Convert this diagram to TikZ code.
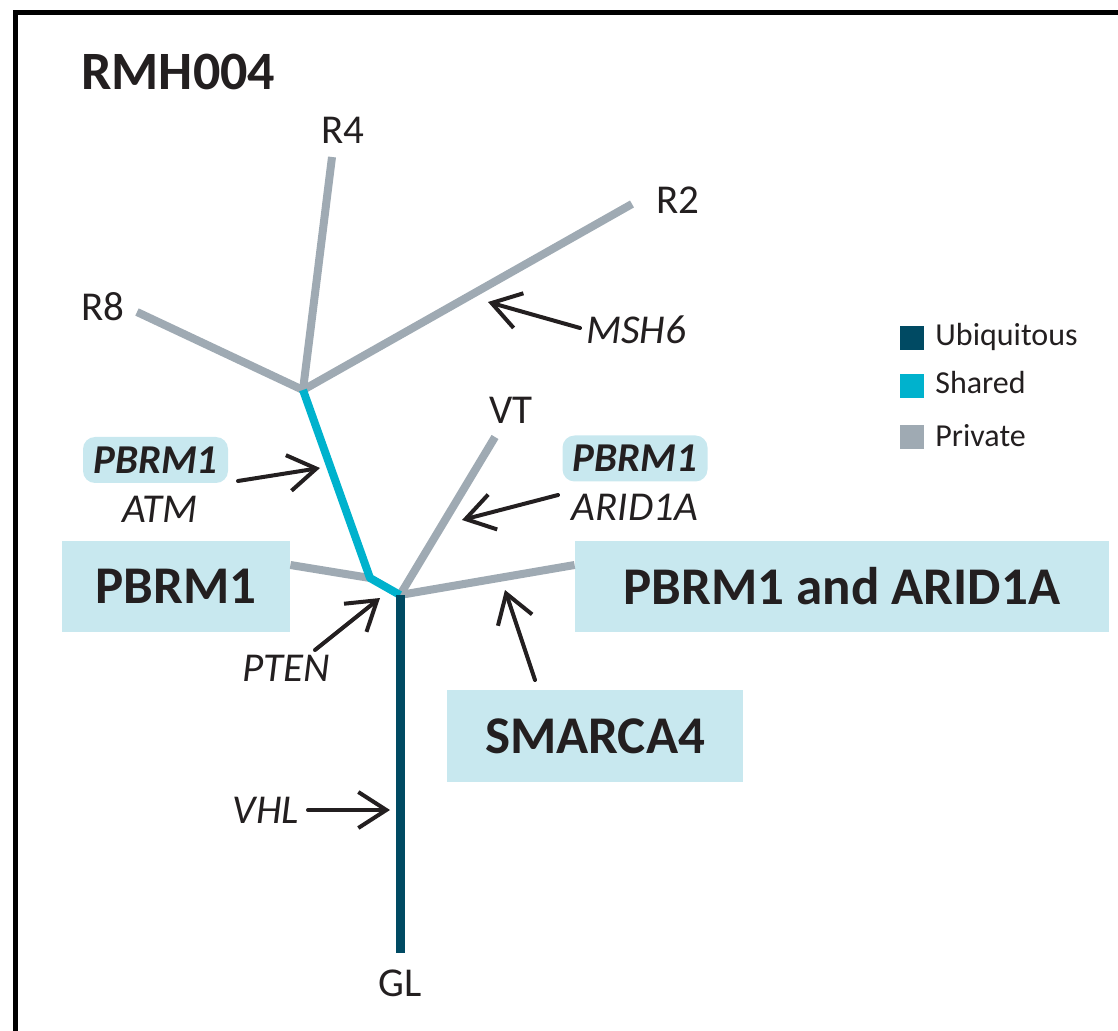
\documentclass[tikz,border=0pt]{standalone}
\usepackage{fontspec}
\setmainfont{Carlito}
\usetikzlibrary{arrows.meta}
\definecolor{ubiq}{HTML}{004A63}
\definecolor{shared}{HTML}{00B2CD}
\definecolor{priv}{HTML}{9FAAB3}
\definecolor{boxfill}{HTML}{C8E8EF}
\definecolor{ink}{HTML}{231F20}
\begin{document}
\begin{tikzpicture}[x=0.5pt,y=-0.5pt,
  branch/.style={line width=4pt},
  mut/.style={draw=ink, line width=2pt, line cap=round,
    -{Straight Barb[length=14pt,width=18pt,line width=2pt]}},
  lbl/.style={text=ink, inner sep=0pt, font=\fontsize{20.5}{23}\selectfont},
  ital/.style={lbl, font=\fontsize{20.5}{23}\selectfont\itshape},
  badge/.style={fill=boxfill, rounded corners=6pt, minimum width=72.5pt, minimum height=23pt,
    inner sep=0pt, text=ink, font=\fontsize{20.5}{23}\selectfont\bfseries\itshape},
  bigbox/.style={fill=boxfill, minimum height=45.5pt, inner sep=0pt, text=ink,
    font=\fontsize{26.5}{29}\selectfont\bfseries},
  legsq/.style={minimum size=12pt, inner sep=0pt},
  legtxt/.style={anchor=base west, inner sep=0pt, text=ink, font=\fontsize{16}{18}\selectfont}]
\useasboundingbox (0,0) rectangle (1118,1031);
\clip (0,0) rectangle (1118,1031);
% frame
\draw[line width=2.75pt] (15.5,12.5) rectangle (1140,1060);
% title
\node[lbl, anchor=west, font=\fontsize{27}{30}\selectfont\bfseries] (title) at (81,72) {RMH004};
% tree coordinates
\coordinate (jR) at (303,390);
\coordinate (r4end) at (332,157);
\coordinate (r8end) at (137,312);
\coordinate (r2end) at (632,204);
\coordinate (kink) at (370,578);
\coordinate (jT) at (400,595);
\coordinate (glend) at (400,953);
\coordinate (vtend) at (495,437);
% boxes
\node[bigbox, minimum width=114pt] (bP) at (176,586.5) {PBRM1};
\node[bigbox, minimum width=267pt] (bPA) at (842,586.5) {PBRM1 and ARID1A};
\node[bigbox, minimum width=148pt, minimum height=46pt] (bS) at (595,736) {SMARCA4};
% private branches
\draw[priv, branch] (r4end) -- (jR);
\draw[priv, branch] (r8end) -- (jR);
\draw[priv, branch] (r2end) -- (jR);
\draw[priv, branch] (bP.east |- 0,565) -- (kink);
\draw[priv, branch] (vtend) -- (jT);
\draw[priv, branch] (jT) -- (bPA.west |- 0,565);
% shared
\draw[shared, branch, line join=round] (jR) -- (kink) -- (jT);
% ubiquitous
\draw[ubiq, line width=4.5pt] (jT) -- (glend);
% tip labels
\node[lbl] (R4) at (343,130) {R4};
\node[lbl] (R2) at (678,200) {R2};
\node[lbl] (R8) at (103,307) {R8};
\node[lbl] (VT) at (511,410) {VT};
\node[lbl] (GL) at (400,983) {GL};
% badges and mutation labels
\node[badge] (bdgL) at (155.5,460) {PBRM1};
\node[ital] (ATM) at (160,509) {ATM};
\node[badge] (bdgR) at (635,458.5) {PBRM1};
\node[ital] (ARID) at (635,507) {ARID1A};
\node[ital] (MSH6) at (636,330) {MSH6};
\node[ital] (PTEN) at (286,668) {PTEN};
\node[ital] (VHL) at (266,810) {VHL};
% arrow coordinates
\coordinate (aMs) at (580,328); \coordinate (aMe) at (488,302);
\coordinate (aLs) at (238,481); \coordinate (aLe) at (320,468);
\coordinate (aRs) at (558,495); \coordinate (aRe) at (462,520);
\coordinate (aPs) at (315,650); \coordinate (aPe) at (380,598);
\coordinate (aSs) at (535,680); \coordinate (aSe) at (505,590);
\coordinate (aVs) at (308,810); \coordinate (aVe) at (390,810);
\draw[mut] (aMs) -- (aMe);
\draw[mut] (aLs) -- (aLe);
\draw[mut] (aRs) -- (aRe);
\draw[mut] (aPs) -- (aPe);
\draw[mut] (aSs) -- (aSe);
\draw[mut] (aVs) -- (aVe);
% legend
\node[legsq, fill=ubiq] (sqU) at (912,338) {};
\node[legsq, fill=shared] (sqS) at (912,386) {};
\node[legsq, fill=priv] (sqP) at (912,437) {};
\node[legtxt] (tU) at (935,346) {Ubiquitous};
\node[legtxt] (tS) at (935,394) {Shared};
\node[legtxt] (tP) at (935,447) {Private};
\end{tikzpicture}
\end{document}
